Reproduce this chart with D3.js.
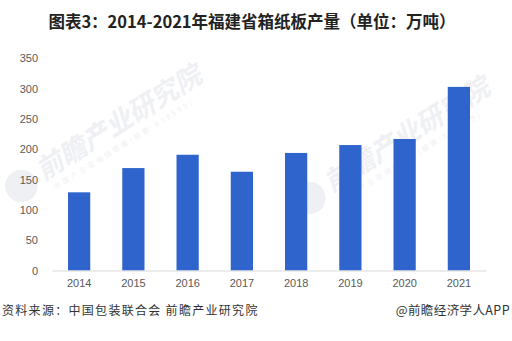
<!DOCTYPE html>
<html>
<head>
<meta charset="utf-8">
<script src="https://cdn.jsdelivr.net/npm/d3@7/dist/d3.min.js"></script>
<style>
  html, body { margin: 0; padding: 0; background: #fff; }
  svg { display: block; font-family: "Noto Sans CJK SC", "Noto Sans", sans-serif; }
</style>
</head>
<body>
<svg id="chart" width="512" height="341"></svg>
<script>
// 福建省箱纸板产量（万吨）
const years = ["2014", "2015", "2016", "2017", "2018", "2019", "2020", "2021"];
const output = [129, 169, 191, 163, 194, 207, 217, 303];
const yTicks = [0, 50, 100, 150, 200, 250, 300, 350];

const titleText = "图表3：2014-2021年福建省箱纸板产量（单位：万吨）";
const sourceText = "资料来源：中国包装联合会 前瞻产业研究院";
const creditText = "@前瞻经济学人APP";

const svg = d3.select("#chart");
const margin = { left: 52, right: 26 };
const W = 512;
const plotBottom = 270.5;
const plotTop = plotBottom - 350 * 0.606;

const x = d3.scaleBand().domain(years).range([margin.left, W - margin.right]).paddingInner(0.59).paddingOuter(0.295);
const y = d3.scaleLinear().domain([0, 350]).range([plotBottom, plotTop]);

// faint watermark marks
function watermark(cx, cy, scale) {
  const g = svg.append("g")
    .attr("transform", `translate(${cx},${cy}) rotate(-32) scale(${scale})`)
    .attr("fill", "#eef0f4");
  g.append("circle").attr("cx", -112).attr("cy", 6).attr("r", 18);
  g.append("text").attr("x", -88).attr("y", 14)
    .attr("font-size", 30).attr("font-weight", "bold").attr("font-style", "italic")
    .text("前瞻产业研究院");
  g.append("text").attr("x", -82).attr("y", 30)
    .attr("font-size", 8).attr("letter-spacing", 3)
    .text("中国产业咨询领导者(股票:839599)");
}
watermark(104, 128, 0.9);
watermark(392, 140, 0.9);

// title
svg.append("text")
  .attr("x", 252).attr("y", 28)
  .attr("text-anchor", "middle")
  .attr("font-size", 16.5).attr("font-weight", "bold").attr("fill", "#222")
  .text(titleText);

// y axis labels
const yAxis = d3.axisLeft(y).tickValues(yTicks).tickSize(0).tickPadding(0);
svg.append("g").attr("transform", "translate(38,0)").call(yAxis)
  .call(g => g.select(".domain").remove())
  .call(g => g.selectAll("text").attr("font-size", 11).attr("fill", "#595959")
    .attr("font-family", "Arial, 'Liberation Sans', sans-serif"));

// bars
svg.append("g").selectAll("rect").data(years).join("rect")
  .attr("x", d => x(d))
  .attr("width", x.bandwidth())
  .attr("y", (d, i) => y(output[i]))
  .attr("height", (d, i) => y(0) - y(output[i]))
  .attr("fill", "#2e64cb");

// x axis
const xAxis = d3.axisBottom(x).tickSize(0).tickPadding(9);
svg.append("g").attr("transform", `translate(0,${plotBottom})`).call(xAxis)
  .call(g => g.select(".domain").attr("stroke", "#d9d9d9").attr("stroke-width", 1.2))
  .call(g => g.selectAll("text").attr("font-size", 11).attr("fill", "#595959")
    .attr("font-family", "Arial, 'Liberation Sans', sans-serif"));

// footer
svg.append("text").attr("x", 2).attr("y", 315)
  .attr("font-size", 12).attr("fill", "#333").attr("letter-spacing", 1.3)
  .text(sourceText);
svg.append("text").attr("x", 510).attr("y", 315)
  .attr("text-anchor", "end")
  .attr("font-size", 12.5).attr("fill", "#333").attr("letter-spacing", 0.4)
  .text(creditText);
</script>
</body>
</html>
